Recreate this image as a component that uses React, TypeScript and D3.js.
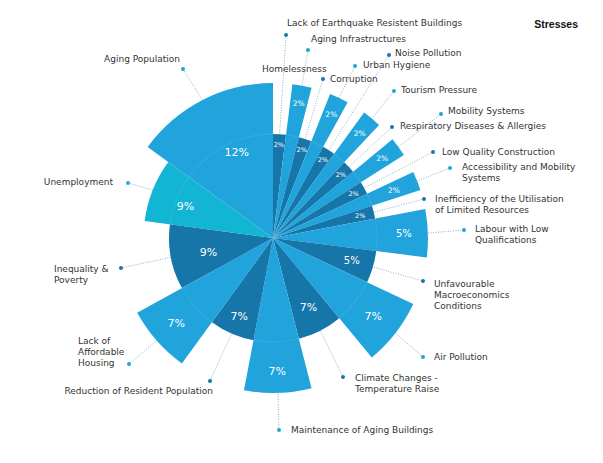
import React from 'react';
import * as d3 from 'd3';

// ---- data ----
const categories = [
  'Lack of Earthquake Resistent Buildings',
  'Aging Infrastructures',
  'Homelessness',
  'Corruption',
  'Urban Hygiene',
  'Noise Pollution',
  'Tourism Pressure',
  'Respiratory Diseases & Allergies',
  'Mobility Systems',
  'Low Quality Construction',
  'Accessibility and Mobility Systems',
  'Inefficiency of the Utilisation of Limited Resources',
  'Labour with Low Qualifications',
  'Unfavourable Macroeconomics Conditions',
  'Air Pollution',
  'Climate Changes - Temperature Raise',
  'Maintenance of Aging Buildings',
  'Reduction of Resident Population',
  'Lack of Affordable Housing',
  'Inequality & Poverty',
  'Unemployment',
  'Aging Population',
];
// angular share of each wedge (percent of the circle, as measured)
const angleShare = [2, 2, 0, 2, 2, 2, 2, 2, 2, 2, 2, 2, 5, 5, 7, 7, 7, 7, 7, 10.1, 7.9, 15];
// percentage printed on each wedge
const pctLabels = [2, 2, null, 2, 2, 2, 2, 2, 2, 2, 2, 2, 5, 5, 7, 7, 7, 7, 7, 9, 9, 12];
// radial tier of each wedge (1 = short, 2 = middle, 3 = long)
const tier = [1, 3, 0, 1, 3, 1, 3, 1, 3, 1, 3, 1, 3, 1, 3, 1, 3, 1, 3, 1, 2, 3];
const title = 'Stresses';

// ---- layout for labels ----
const labelLines: string[][] = [
  ['Lack of Earthquake Resistent Buildings'],
  ['Aging Infrastructures'],
  ['Homelessness'],
  ['Corruption'],
  ['Urban Hygiene'],
  ['Noise Pollution'],
  ['Tourism Pressure'],
  ['Respiratory Diseases & Allergies'],
  ['Mobility Systems'],
  ['Low Quality Construction'],
  ['Accessibility and Mobility', 'Systems'],
  ['Inefficiency of the Utilisation', 'of Limited Resources'],
  ['Labour with Low', 'Qualifications'],
  ['Unfavourable', 'Macroeconomics', 'Conditions'],
  ['Air Pollution'],
  ['Climate Changes -', 'Temperature Raise'],
  ['Maintenance of Aging Buildings'],
  ['Reduction of Resident Population'],
  ['Lack of', 'Affordable', 'Housing'],
  ['Inequality &', 'Poverty'],
  ['Unemployment'],
  ['Aging Population'],
];
// [dotX, dotY, textX, textY, anchor]  (null dot = no dot)
const labelLayout: [number | null, number | null, number, number, string][] = [
  [286, 35, 287, 23, 'start'],
  [308, 50, 311, 39, 'start'],
  [null, null, 262, 69, 'start'],
  [323, 79, 330, 79, 'start'],
  [355, 66, 363, 65, 'start'],
  [389, 55, 395, 53, 'start'],
  [394, 91, 401, 90, 'start'],
  [392, 127, 400, 126, 'start'],
  [441, 114, 448, 111, 'start'],
  [433, 152, 442, 152, 'start'],
  [450, 168, 462, 167, 'start'],
  [424, 199, 435, 199, 'start'],
  [464, 230, 475, 229, 'start'],
  [423, 281, 434, 284, 'start'],
  [423, 357, 434, 357, 'start'],
  [343, 377, 355, 378, 'start'],
  [279, 430, 291, 430, 'start'],
  [210, 381, 213, 391, 'end'],
  [129, 364, 78, 341, 'start'],
  [121, 268, 54, 269, 'start'],
  [128, 183, 113, 182, 'end'],
  [183, 69, 180, 59, 'end'],
];
// radius at which the percentage is printed
const pctRadius = [93, 137, 0, 93, 137, 93, 136, 93, 135, 92, 130, 90, 131, 82, 127, 78, 133, 85, 129, 66, 93, 93];
// small angular nudge of the printed percentage (degrees)
const pctNudge = [0, 0, 0, 0, 0, 0, 0, 0, 0, 0, 0, 0, 0, 0, 0, 0, 0, 0, 0, -2, -2, 4];

const W = 603;
const H = 463;
const cx = 273;
const cy = 238;

const radius = d3.scaleLinear().domain([1, 3]).range([104, 155]);
const colorOf = d3.scaleOrdinal<number, string>().domain([1, 2, 3]).range(['#1676aa', '#12b5d3', '#21a3dc']);

export default function App() {
  const items = categories.map((c, i) => ({ i, name: c, share: angleShare[i] }));
  const pie = d3.pie<any>().sort(null).value((d) => d.share).startAngle(0).endAngle(2 * Math.PI);
  const arcs = pie(items);
  const arcGen = d3.arc<any>();
  const polar = (a: number, r: number) => [cx + r * Math.sin(a), cy - r * Math.cos(a)];
  const font = "'DejaVu Sans', Verdana, sans-serif";

  return (
    <svg width={W} height={H} style={{ position: 'absolute', left: 0, top: 0, background: '#fff' }}>
      {/* leader lines (under wedges) */}
      <g>
        {arcs.map((a) => {
          const L = labelLayout[a.index];
          if (L[0] === null || a.data.share === 0) return null;
          const mid = (a.startAngle + a.endAngle) / 2;
          const [x, y] = polar(mid, radius(tier[a.index]) - 2);
          return (
            <line key={'l' + a.index} x1={L[0]} y1={L[1] as number} x2={x} y2={y}
              stroke="#8fb0c6" strokeWidth={1} strokeDasharray="1 1.5" />
          );
        })}
      </g>
      <g transform={`translate(${cx},${cy})`}>
        {arcs.map((a) => a.data.share === 0 ? null : (
          <path key={'w' + a.index}
            d={arcGen({ innerRadius: 0, outerRadius: radius(tier[a.index]), startAngle: a.startAngle, endAngle: a.endAngle }) as string}
            fill={colorOf(tier[a.index])} />
        ))}
        {arcs.map((a) => (a.data.share === 0 || tier[a.index] === 1) ? null : (
          <path key={'s' + a.index}
            d={d3.arc()({ innerRadius: radius(1) - 0.4, outerRadius: radius(1) + 0.4, startAngle: a.startAngle, endAngle: a.endAngle }) as string}
            fill="rgba(255,255,255,0.12)" />
        ))}
      </g>
      {/* percentages */}
      {arcs.map((a) => {
        if (pctLabels[a.index] === null) return null;
        const mid = (a.startAngle + a.endAngle) / 2 + (pctNudge[a.index] * Math.PI) / 180;
        const [x, y] = polar(mid, pctRadius[a.index]);
        const v = pctLabels[a.index] as number;
        const fs = v <= 2 ? (tier[a.index] === 1 ? 6.5 : 7.5) : v <= 5 ? 10 : 11;
        return (
          <text key={'p' + a.index} x={x} y={y} dy="0.35em" textAnchor="middle" fill="#fff"
            fontFamily={font} fontSize={fs}>{v}%</text>
        );
      })}
      {/* dots and labels */}
      {arcs.map((a) => {
        const L = labelLayout[a.index];
        const lines = labelLines[a.index];
        return (
          <g key={'t' + a.index}>
            {L[0] !== null && (
              <circle cx={L[0]} cy={L[1] as number} r={2} fill={colorOf(tier[a.index])} />
            )}
            <text x={L[2]} y={L[3]} textAnchor={L[4] as any} fill="#333" fontFamily={font} fontSize={9}>
              {lines.map((s, k) => (
                <tspan key={k} x={L[2]} dy={k === 0 ? '0.35em' : 11}>{s}</tspan>
              ))}
            </text>
          </g>
        );
      })}
      <text x={578} y={24} dy="0.35em" textAnchor="end" fontFamily="'Liberation Sans', Arial, sans-serif"
        fontWeight="bold" fontSize={10.5} fill="#111">{title}</text>
    </svg>
  );
}
